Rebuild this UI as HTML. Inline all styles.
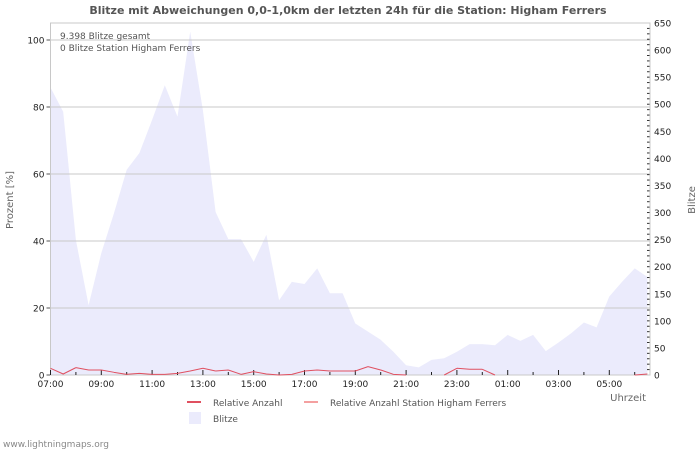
<!DOCTYPE html>
<html><head><meta charset="utf-8"><style>
body{margin:0;background:#fff;}
svg{display:block;font-family:"DejaVu Sans","Liberation Sans",sans-serif;}
</style></head><body>
<svg id="chart" width="700" height="450" xmlns="http://www.w3.org/2000/svg">
<text x="348" y="14" text-anchor="middle" font-size="11" font-weight="bold" fill="#555">Blitze mit Abweichungen 0,0-1,0km der letzten 24h für die Station: Higham Ferrers</text>
<g id="plot"></g>
<text x="60" y="39" font-size="9" fill="#555">9.398 Blitze gesamt</text>
<text x="60" y="51" font-size="9" fill="#555">0 Blitze Station Higham Ferrers</text>
<text transform="translate(13,200) rotate(-90)" text-anchor="middle" font-size="10" fill="#666">Prozent   [%]</text>
<text transform="translate(695,200) rotate(-90)" text-anchor="middle" font-size="10" fill="#666">Blitze</text>
<text x="646" y="401" text-anchor="end" font-size="10" fill="#666">Uhrzeit</text>
<g>
<line x1="187" y1="402" x2="201" y2="402" stroke="#e05060" stroke-width="2"/>
<text x="213" y="406" font-size="9" fill="#555">Relative Anzahl</text>
<line x1="304" y1="402" x2="318" y2="402" stroke="#f4a0a0" stroke-width="2"/>
<text x="330" y="406" font-size="9" fill="#555">Relative Anzahl Station Higham Ferrers</text>
<rect x="189" y="412" width="12" height="12" fill="#ebebfc"/>
<text x="213" y="422" font-size="9" fill="#555">Blitze</text>
</g>
<text x="3" y="447" font-size="9" fill="#888">www.lightningmaps.org</text>
</svg>
<script>
const hourLabels = ["07:00","09:00","11:00","13:00","15:00","17:00","19:00","21:00","23:00","01:00","03:00","05:00"];
const blitze = [531,486,249,129,225,299,379,410,471,535,477,634,489,301,251,251,209,259,138,172,168,197,151,151,95,80,65,43,18,14,28,31,43,57,57,55,74,63,74,44,60,77,97,88,145,172,197,181];
const relative = [2.0,0.3,2.2,1.5,1.5,0.8,0.2,0.5,0.2,0.2,0.5,1.2,2.0,1.2,1.5,0.2,1.0,0.3,0,0.2,1.2,1.5,1.2,1.2,1.2,2.5,1.5,0.2,0,0,0,0,2.0,1.7,1.7,0,0,0,0,0,0,0,0,0,0,0,0,0.3];
const leftTicks = [0,20,40,60,80,100];
const rightTicks = [0,50,100,150,200,250,300,350,400,450,500,550,600,650];

const X0=50.5, X1=650, Y0=375, YT=23, PXH=25.4;
const xS = i => X0 + i*0.5*PXH;
const yL = p => Y0 - p*3.35;
const yR = b => Y0 - b*(Y0-YT)/650;
const g = document.getElementById('plot');
const NS='http://www.w3.org/2000/svg';
function mk(t,a){const e=document.createElementNS(NS,t);for(const k in a)e.setAttribute(k,a[k]);g.appendChild(e);return e;}

let pts = `${xS(0)},${Y0} ` + blitze.map((v,i)=>`${xS(i)},${yR(v)}`).join(' ') + ` ${xS(blitze.length-1)},${Y0}`;
const area = mk('polygon',{points:pts,fill:'#ebebfc'});



leftTicks.forEach(t=>{
  if(t>0){const gl=mk('line',{x1:X0,x2:X1,y1:yL(t),y2:yL(t),stroke:'#c8c8c8','stroke-width':1});
  
  }
  const tk=mk('line',{x1:X0-4,x2:X0,y1:yL(t),y2:yL(t),stroke:'#555'});
  
  
  const tx=mk('text',{x:X0-6,y:yL(t)+3.5,'text-anchor':'end','font-size':9,fill:'#222'});
  tx.textContent=t;
  
  
});
rightTicks.forEach(t=>{
  const tx=mk('text',{x:X1+4,y:yR(t)+3.5,'font-size':9,fill:'#222'});
  tx.textContent=t;
  
  
});
for(let b=0;b<=650;b+=10){
  const tk=mk('line',{x1:X1-3,x2:X1,y1:yR(b),y2:yR(b),stroke:'#333'});
  
  
}
const frame=mk('path',{d:`M${X0},${YT}H${X1}V${Y0}H${X0}Z`,fill:'none',stroke:'#c8c8c8'});


for(let h=0;h<24;h++){
  const x=X0+h*PXH, big=h%2===0;
  const tk=mk('line',{x1:x,x2:x,y1:Y0,y2:Y0-(big?5:3),stroke:'#222'});
  
  
  if(big){
    const tx=mk('text',{x:x,y:Y0+12,'text-anchor':'middle','font-size':9,fill:'#222'});
    tx.textContent=hourLabels[h/2];
    
    
  }
}
let d='';
for(let i=1;i<relative.length;i++){
  if(relative[i-1]===0 && relative[i]===0) continue;
  d+=`M${xS(i-1)},${yL(relative[i-1])}L${xS(i)},${yL(relative[i])}`;
}
const line=mk('path',{d:d,fill:'none',stroke:'#e05060','stroke-width':1});


</script>
</body></html>
